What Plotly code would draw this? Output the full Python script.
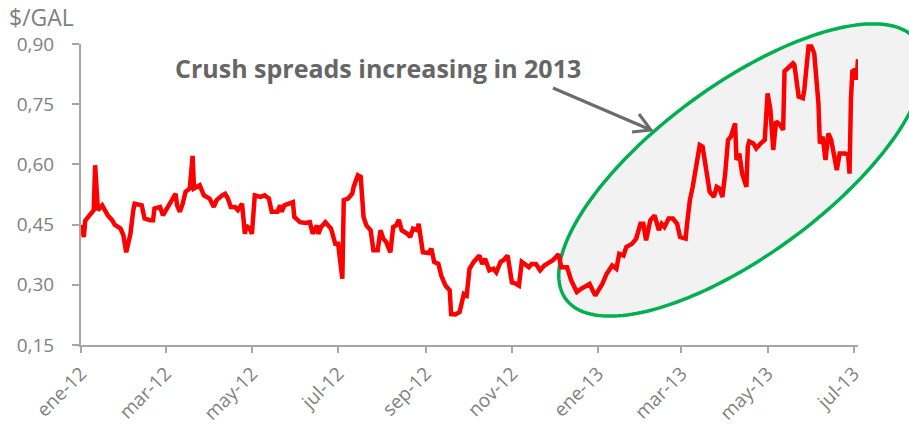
import numpy as np
import plotly.graph_objects as go

# Daily crush spread, $/gal
dates = [
    "2012-01-01", "2012-01-03", "2012-01-04", "2012-01-07", "2012-01-10", "2012-01-11",
    "2012-01-13", "2012-01-16", "2012-01-18", "2012-01-20", "2012-01-23", "2012-01-25",
    "2012-01-29", "2012-01-31", "2012-02-02", "2012-02-05", "2012-02-07", "2012-02-08",
    "2012-02-13", "2012-02-15", "2012-02-19", "2012-02-21", "2012-02-22", "2012-02-26",
    "2012-02-28", "2012-03-02", "2012-03-04", "2012-03-06", "2012-03-08", "2012-03-09",
    "2012-03-11", "2012-03-13", "2012-03-15", "2012-03-18", "2012-03-20", "2012-03-21",
    "2012-03-25", "2012-03-28", "2012-03-30", "2012-04-01", "2012-04-04", "2012-04-06",
    "2012-04-10", "2012-04-12", "2012-04-14", "2012-04-16", "2012-04-19", "2012-04-21",
    "2012-04-24", "2012-04-26", "2012-04-27", "2012-04-30", "2012-05-01", "2012-05-03",
    "2012-05-07", "2012-05-10", "2012-05-13", "2012-05-15", "2012-05-19", "2012-05-21",
    "2012-05-22", "2012-05-24", "2012-05-30", "2012-05-31", "2012-06-04", "2012-06-08",
    "2012-06-11", "2012-06-13", "2012-06-16", "2012-06-17", "2012-06-19", "2012-06-22",
    "2012-06-24", "2012-06-26", "2012-06-29", "2012-07-01", "2012-07-04", "2012-07-05",
    "2012-07-08", "2012-07-11", "2012-07-12", "2012-07-15", "2012-07-17", "2012-07-19",
    "2012-07-21", "2012-07-24", "2012-07-26", "2012-07-29", "2012-07-31", "2012-08-02",
    "2012-08-04", "2012-08-07", "2012-08-09", "2012-08-11", "2012-08-13", "2012-08-15",
    "2012-08-19", "2012-08-21", "2012-08-23", "2012-08-26", "2012-08-27", "2012-08-30",
    "2012-09-03", "2012-09-05", "2012-09-07", "2012-09-10", "2012-09-12", "2012-09-15",
    "2012-09-18", "2012-09-19", "2012-09-22", "2012-09-25", "2012-09-28", "2012-09-30",
    "2012-10-02", "2012-10-05", "2012-10-09", "2012-10-11", "2012-10-13", "2012-10-16",
    "2012-10-19", "2012-10-21", "2012-10-24", "2012-10-26", "2012-10-29", "2012-11-01",
    "2012-11-03", "2012-11-06", "2012-11-08", "2012-11-10", "2012-11-13", "2012-11-15",
    "2012-11-18", "2012-11-21", "2012-11-24", "2012-11-28", "2012-11-30", "2012-12-04",
    "2012-12-06", "2012-12-10", "2012-12-13", "2012-12-17", "2012-12-20", "2012-12-26",
    "2012-12-30", "2013-01-04", "2013-01-07", "2013-01-11", "2013-01-14", "2013-01-16",
    "2013-01-19", "2013-01-21", "2013-01-25", "2013-01-28", "2013-01-31", "2013-02-02",
    "2013-02-04", "2013-02-07", "2013-02-10", "2013-02-13", "2013-02-15", "2013-02-17",
    "2013-02-20", "2013-02-23", "2013-02-26", "2013-02-28", "2013-03-04", "2013-03-05",
    "2013-03-07", "2013-03-09", "2013-03-11", "2013-03-14", "2013-03-16", "2013-03-19",
    "2013-03-21", "2013-03-24", "2013-03-26", "2013-03-28", "2013-03-30", "2013-04-01",
    "2013-04-03", "2013-04-05", "2013-04-08", "2013-04-09", "2013-04-11", "2013-04-13",
    "2013-04-16", "2013-04-17", "2013-04-18", "2013-04-21", "2013-04-23", "2013-04-26",
    "2013-04-29", "2013-05-01", "2013-05-03", "2013-05-05", "2013-05-07", "2013-05-10",
    "2013-05-12", "2013-05-13", "2013-05-16", "2013-05-19", "2013-05-20", "2013-05-23",
    "2013-05-26", "2013-05-27", "2013-05-30", "2013-06-01", "2013-06-03", "2013-06-06",
    "2013-06-07", "2013-06-09", "2013-06-11", "2013-06-13", "2013-06-15", "2013-06-18",
    "2013-06-19", "2013-06-21", "2013-06-25", "2013-06-27", "2013-06-28", "2013-06-29",
    "2013-06-30", "2013-07-02", "2013-07-03", "2013-07-04",
]

spread = [
    0.449, 0.419, 0.460, 0.473, 0.486, 0.598,
    0.486, 0.498, 0.482, 0.473, 0.461, 0.449,
    0.440, 0.423, 0.381, 0.427, 0.486, 0.502,
    0.498, 0.465, 0.461, 0.461, 0.490, 0.494,
    0.473, 0.490, 0.502, 0.515, 0.527, 0.498,
    0.482, 0.502, 0.532, 0.540, 0.621, 0.540,
    0.548, 0.523, 0.519, 0.515, 0.494, 0.511,
    0.523, 0.527, 0.515, 0.494, 0.494, 0.486,
    0.502, 0.427, 0.448, 0.436, 0.427, 0.523,
    0.519, 0.523, 0.515, 0.482, 0.482, 0.498,
    0.482, 0.498, 0.506, 0.469, 0.456, 0.454,
    0.456, 0.427, 0.448, 0.427, 0.444, 0.456,
    0.448, 0.440, 0.402, 0.402, 0.315, 0.511,
    0.515, 0.527, 0.544, 0.573, 0.569, 0.469,
    0.448, 0.436, 0.386, 0.386, 0.436, 0.415,
    0.407, 0.381, 0.444, 0.448, 0.462, 0.436,
    0.427, 0.419, 0.440, 0.436, 0.452, 0.381,
    0.379, 0.390, 0.357, 0.352, 0.323, 0.298,
    0.286, 0.227, 0.226, 0.232, 0.277, 0.273,
    0.340, 0.357, 0.373, 0.352, 0.365, 0.336,
    0.340, 0.331, 0.357, 0.361, 0.373, 0.306,
    0.304, 0.298, 0.357, 0.352, 0.344, 0.352,
    0.352, 0.336, 0.348, 0.357, 0.361, 0.376,
    0.344, 0.344, 0.311, 0.282, 0.290, 0.302,
    0.273, 0.302, 0.327, 0.348, 0.340, 0.377,
    0.373, 0.394, 0.402, 0.415, 0.452, 0.452,
    0.411, 0.461, 0.473, 0.436, 0.452, 0.444,
    0.465, 0.465, 0.452, 0.419, 0.415, 0.452,
    0.511, 0.544, 0.586, 0.648, 0.644, 0.569,
    0.532, 0.519, 0.544, 0.540, 0.519, 0.577,
    0.661, 0.669, 0.702, 0.611, 0.627, 0.577,
    0.544, 0.644, 0.657, 0.652, 0.640, 0.652,
    0.661, 0.777, 0.736, 0.636, 0.707, 0.698,
    0.686, 0.832, 0.844, 0.852, 0.848, 0.769,
    0.765, 0.786, 0.894, 0.894, 0.877, 0.752,
    0.652, 0.669, 0.611, 0.677, 0.661, 0.611,
    0.586, 0.627, 0.627, 0.623, 0.577, 0.761,
    0.832, 0.836, 0.811, 0.862,
]

tick_dates = ["2012-01-01", "2012-03-01", "2012-05-01", "2012-07-01", "2012-09-01",
              "2012-11-01", "2013-01-01", "2013-03-01", "2013-05-01", "2013-07-01"]
tick_labels = ["ene-12", "mar-12", "may-12", "jul-12", "sep-12",
               "nov-12", "ene-13", "mar-13", "may-13", "jul-13"]
y_ticks = [0.15, 0.30, 0.45, 0.60, 0.75, 0.90]
y_labels = ["0,15", "0,30", "0,45", "0,60", "0,75", "0,90"]

W, H = 909, 425
L, R, T, B = 81, 51, 44, 80
PW, PH = W - L - R, H - T - B

AXIS = "#A6A6A6"
TEXT = "#7F7F7F"
FONT = "Open Sans"


def to_paper(px, py):
    """Figure pixel position -> paper coordinates."""
    return (px - L) / PW, (H - B - py) / PH


# Highlight ellipse (tilted), built as an SVG path in paper coordinates
cx, cy, a, b, ang = 741.5, 170.0, 218.0, 85.0, np.deg2rad(36.3)
t = np.linspace(0, 2 * np.pi, 200)
ex = cx + a * np.cos(t) * np.cos(ang) - b * np.sin(t) * np.sin(ang)
ey = cy - (a * np.cos(t) * np.sin(ang) + b * np.sin(t) * np.cos(ang))
pts = [to_paper(x, y) for x, y in zip(ex, ey)]
ellipse_path = "M " + " L ".join(f"{x:.5f},{y:.5f}" for x, y in pts) + " Z"

# Arrow pointing at the ellipse
ax0, ay0 = to_paper(553, 88)
ax1, ay1 = to_paper(651, 130)
bx1, by1 = to_paper(639, 114)
bx2, by2 = to_paper(632, 132)
arrow_path = (f"M {ax0:.5f},{ay0:.5f} L {ax1:.5f},{ay1:.5f} "
              f"M {bx1:.5f},{by1:.5f} L {ax1:.5f},{ay1:.5f} L {bx2:.5f},{by2:.5f}")

fig = go.Figure()
fig.add_trace(go.Scatter(
    x=dates, y=spread, mode="lines",
    line=dict(color="#FF0000", width=4.5, shape="linear"),
    hoverinfo="skip", showlegend=False,
))

fig.add_shape(type="path", path=ellipse_path, xref="paper", yref="paper",
              fillcolor="#F2F2F2", line=dict(color="#00B050", width=3.5), layer="below")
fig.add_shape(type="path", path=arrow_path, xref="paper", yref="paper",
              line=dict(color="#6B6B6B", width=3), layer="above")

tx, ty = to_paper(173, 68)
fig.add_annotation(x=tx, y=ty, xref="paper", yref="paper", xanchor="left", yanchor="middle",
                   text="<b>Crush spreads increasing in 2013</b>", showarrow=False,
                   font=dict(family=FONT, size=25, color="#666666"))
ux, uy = to_paper(7, 17)
fig.add_annotation(x=ux, y=uy, xref="paper", yref="paper", xanchor="left", yanchor="middle",
                   text="$/GAL", showarrow=False,
                   font=dict(family=FONT, size=23, color=TEXT))

fig.update_layout(
    width=W, height=H,
    margin=dict(l=L, r=R, t=T, b=B, autoexpand=False),
    paper_bgcolor="white", plot_bgcolor="rgba(0,0,0,0)",
    font=dict(family=FONT, color=TEXT, size=19),
    xaxis=dict(
        type="date", range=["2012-01-01", "2013-07-04"],
        tickvals=tick_dates, ticktext=tick_labels, tickangle=-45,
        showgrid=False, zeroline=False, automargin=False,
        showline=True, linecolor=AXIS, linewidth=2,
        ticks="outside", ticklen=6, tickwidth=2, tickcolor=AXIS,
        ticklabelstandoff=2,
        tickfont=dict(family=FONT, size=19, color=TEXT),
    ),
    yaxis=dict(
        range=[0.15, 0.90], tickvals=y_ticks, ticktext=y_labels,
        showgrid=False, zeroline=False, automargin=False,
        showline=True, linecolor=AXIS, linewidth=2,
        ticks="outside", ticklen=7, tickwidth=2, tickcolor=AXIS,
        ticklabelstandoff=14,
        tickfont=dict(family=FONT, size=19, color=TEXT),
    ),
)

fig.write_html("out.html")
